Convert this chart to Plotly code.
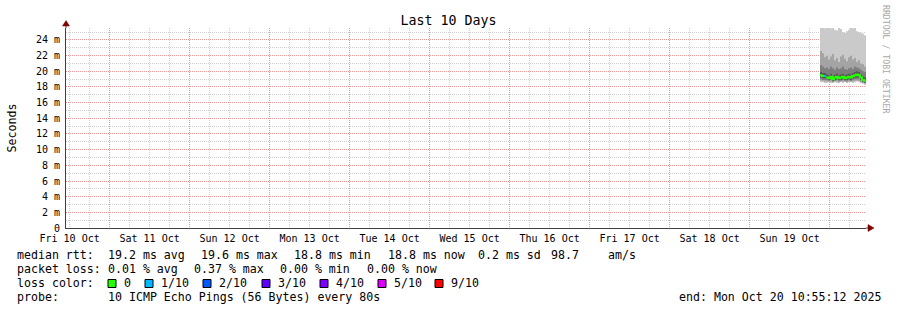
import plotly.graph_objects as go

# ---------------- data ----------------
START = "2025-10-10 10:55:12"
END = "2025-10-20 10:55:12"

times = [
    "2025-10-19 21:07:12", "2025-10-19 21:43:12", "2025-10-19 22:19:12", "2025-10-19 22:55:12",
    "2025-10-19 23:31:12", "2025-10-20 00:07:12", "2025-10-20 00:43:12", "2025-10-20 01:19:12",
    "2025-10-20 01:55:12", "2025-10-20 02:31:12", "2025-10-20 03:07:12", "2025-10-20 03:43:12",
    "2025-10-20 04:19:12", "2025-10-20 04:55:12", "2025-10-20 05:31:12", "2025-10-20 06:07:12",
    "2025-10-20 06:43:12", "2025-10-20 07:19:12", "2025-10-20 07:55:12", "2025-10-20 08:31:12",
    "2025-10-20 09:07:12", "2025-10-20 09:43:12", "2025-10-20 10:19:12",
]

# sorted ping times (ms), ping1 = fastest ... ping10 = slowest
ping1 = [18.6, 18.6, 18.5, 18.5, 18.6, 18.5, 18.5, 18.6, 18.5, 18.5, 18.6, 18.5, 18.6, 18.5, 18.6, 18.6, 18.5, 18.6, 18.7, 18.6, 18.5, 18.4, 18.3]
ping2 = [18.8, 18.8, 18.7, 18.7, 18.7, 18.7, 18.6, 18.7, 18.7, 18.6, 18.7, 18.7, 18.7, 18.6, 18.7, 18.7, 18.7, 18.8, 18.8, 18.8, 18.6, 18.5, 18.4]
ping3 = [19.0, 18.9, 18.9, 18.9, 18.8, 18.9, 18.7, 18.8, 18.9, 18.8, 18.8, 18.9, 18.8, 18.8, 18.9, 18.8, 18.9, 19.0, 19.0, 19.0, 18.8, 18.6, 18.5]
ping4 = [19.2, 19.1, 19.1, 19.0, 18.9, 19.0, 18.8, 18.9, 19.0, 18.9, 18.9, 19.0, 18.9, 18.9, 19.0, 18.9, 19.1, 19.2, 19.2, 19.2, 18.9, 18.7, 18.6]
ping5 = [19.4, 19.3, 19.3, 19.1, 19.0, 19.2, 18.9, 19.1, 19.2, 19.0, 19.1, 19.2, 19.0, 19.1, 19.2, 19.1, 19.3, 19.4, 19.5, 19.4, 19.1, 18.8, 18.7]
ping6 = [19.6, 19.5, 19.5, 19.3, 19.2, 19.4, 19.1, 19.3, 19.4, 19.2, 19.3, 19.4, 19.2, 19.3, 19.4, 19.3, 19.5, 19.6, 19.7, 19.6, 19.3, 19.0, 18.9]
ping7 = [19.9, 19.8, 19.8, 19.6, 19.5, 19.7, 19.4, 19.6, 19.7, 19.5, 19.6, 19.7, 19.5, 19.6, 19.7, 19.6, 19.8, 19.9, 20.0, 19.9, 19.6, 19.3, 19.2]
ping8 = [20.8, 20.6, 20.4, 20.5, 20.3, 20.6, 20.4, 20.2, 20.5, 20.3, 20.4, 20.6, 20.3, 20.2, 20.4, 20.5, 20.3, 20.6, 20.5, 20.4, 20.2, 20.0, 19.9]
ping9 = [22.6, 22.3, 21.8, 22.0, 21.5, 21.9, 22.2, 21.4, 21.7, 21.2, 21.9, 22.1, 21.6, 21.3, 21.8, 22.0, 21.5, 21.7, 21.2, 21.4, 21.0, 20.9, 20.6]
ping10 = [25.6, 25.6, 25.5, 25.6, 25.6, 25.5, 25.6, 25.3, 25.2, 25.6, 25.4, 25.0, 24.9, 25.1, 25.3, 25.6, 25.5, 25.6, 25.1, 25.0, 24.9, 24.8, 24.6]

median = [19.5, 19.4, 19.4, 19.2, 19.1, 19.3, 19.0, 19.2, 19.3, 19.1, 19.2, 19.3, 19.1, 19.2, 19.3, 19.2, 19.4, 19.5, 19.6, 19.5, 19.2, 18.9, 18.8]
loss_pct = [0, 0, 0.37, 0, 0, 0, 0, 0, 0, 0, 0, 0, 0, 0, 0, 0, 0, 0, 0, 0, 0, 0, 0]
PINGS = 10

loss_keys = [0, 1, 2, 3, 4, 5, 9]
loss_labels = ["0", "1/10", "2/10", "3/10", "4/10", "5/10", "9/10"]
loss_colors = ["#26ff00", "#00b8ff", "#0059ff", "#5e00ff", "#7e00ff", "#dd00ff", "#ff0000"]

day_labels = ["Fri 10 Oct", "Sat 11 Oct", "Sun 12 Oct", "Mon 13 Oct", "Tue 14 Oct",
              "Wed 15 Oct", "Thu 16 Oct", "Fri 17 Oct", "Sat 18 Oct", "Sun 19 Oct"]
day_label_pos = ["2025-10-10 12:00", "2025-10-11 12:00", "2025-10-12 12:00", "2025-10-13 12:00",
                 "2025-10-14 12:00", "2025-10-15 12:00", "2025-10-16 12:00", "2025-10-17 12:00",
                 "2025-10-18 12:00", "2025-10-19 12:00"]
midnights = ["2025-10-11", "2025-10-12", "2025-10-13", "2025-10-14", "2025-10-15",
             "2025-10-16", "2025-10-17", "2025-10-18", "2025-10-19", "2025-10-20"]
y_ticks = [0, 2, 4, 6, 8, 10, 12, 14, 16, 18, 20, 22, 24]
y_ticktext = ["0"] + [f"{v} m" for v in y_ticks[1:]]
Y_MAX = 25.53

legend_line1 = [(16, "median rtt:"), (107, "19.2 ms avg"), (200, "19.6 ms max"), (293, "18.8 ms min"),
                (387, "18.8 ms now"), (477, "0.2 ms sd"), (550, "98.7"), (607, "am/s")]
legend_line2 = [(16, "packet loss:"), (107, "0.01 % avg"), (193, "0.37 % max"), (279, "0.00 % min"),
                (366, "0.00 % now")]
legend_line3 = [(16, "loss color:")]
legend_line4 = [(16, "probe:"), (107, "10 ICMP Echo Pings (56 Bytes) every 80s"),
                (678, "end: Mon Oct 20 10:55:12 2025")]
box_x = [108, 145, 203, 262, 320, 378, 435]

# ---------------- layout constants ----------------
W, H = 897, 310
L, R, T, B = 66, 31, 28, 82
PW, PH = W - L - R, H - T - B
MONO = "DejaVu Sans Mono"
MGRID = "rgba(245,128,128,0.75)"
GRID = "rgba(191,191,191,0.75)"
AXIS = "#404040"
ARROW = "#800000"


def px(x):
    return (x - L) / PW


def py(y):
    return (H - B - y) / PH


def nb(s):
    return s.replace(" ", "\u00a0")


fig = go.Figure()

# smoke bands (outer = lightest)
pings = [ping1, ping2, ping3, ping4, ping5, ping6, ping7, ping8, ping9, ping10]
xs = times + [END]
half = PINGS // 2
for i in range(1, half + 1):
    c = int(190 / half * (half - i)) + 50
    col = "#" + ("%02x" % c) * 3
    lo = pings[i - 1]
    hi = pings[PINGS - i]
    fig.add_trace(go.Scatter(x=xs, y=lo + [lo[-1]], mode="lines", line=dict(width=0, shape="hv"),
                             hoverinfo="skip", showlegend=False))
    fig.add_trace(go.Scatter(x=xs, y=hi + [hi[-1]], mode="lines", line=dict(width=0, shape="hv"),
                             fill="tonexty", fillcolor=col, hoverinfo="skip", showlegend=False))

# median coloured by loss
loss_p = [v / 100 * PINGS for v in loss_pct]
bins = []
for lv in loss_p:
    last = -1
    for k, key in enumerate(loss_keys):
        if last < lv <= key:
            bins.append(k)
            break
        last = key
for k, colr in enumerate(loss_colors):
    sx, sy = [], []
    for i, b in enumerate(bins):
        if b == k:
            sx += [xs[i], xs[i + 1]]
            sy += [median[i], median[i]]
        else:
            sx.append(None)
            sy.append(None)
    if any(v is not None for v in sy):
        fig.add_trace(go.Scatter(x=sx, y=sy, mode="lines", line=dict(width=2, color=colr),
                                 connectgaps=False, hoverinfo="skip", showlegend=False))

# invisible trace for label axis
fig.add_trace(go.Scatter(x=day_label_pos, y=[0] * len(day_label_pos), xaxis="x2", mode="markers",
                         marker=dict(opacity=0), hoverinfo="skip", showlegend=False))

fig.update_layout(
    width=W, height=H, margin=dict(l=L, r=R, t=T, b=B, pad=0),
    paper_bgcolor="white", plot_bgcolor="white", showlegend=False,
    font=dict(family=MONO, size=10, color="black"),
    xaxis=dict(type="date", range=[START, END], tickmode="array", tickvals=midnights,
               showticklabels=False, ticks="", showgrid=True, gridcolor=MGRID, griddash="1px,1px",
               gridwidth=1, zeroline=False, showline=True, linecolor=AXIS, linewidth=1,
               minor=dict(tick0="2025-10-10", dtick=6 * 3600 * 1000, showgrid=True, gridcolor=GRID,
                          griddash="1px,1px", gridwidth=1, ticks="")),
    xaxis2=dict(type="date", range=[START, END], overlaying="x", anchor="y", side="bottom",
                tickmode="array", tickvals=day_label_pos, ticktext=day_labels, showgrid=False,
                zeroline=False, showline=False, ticks="outside", ticklen=1,
                tickcolor="rgba(0,0,0,0)", tickfont=dict(family=MONO, size=10, color="black")),
    yaxis=dict(range=[0, Y_MAX], tickmode="array", tickvals=y_ticks, ticktext=y_ticktext,
               showgrid=True, gridcolor=MGRID, griddash="1px,1px", gridwidth=1, zeroline=False,
               showline=True, linecolor=AXIS, linewidth=1, ticks="outside", ticklen=3,
               tickcolor="rgba(0,0,0,0)", tickfont=dict(family=MONO, size=10, color="black"),
               minor=dict(dtick=1, tick0=0, showgrid=True, gridcolor=GRID, griddash="1px,1px",
                          gridwidth=1, ticks="")),
    title=dict(text="Last 10 Days", x=0.5, xref="container", xanchor="center",
               y=(H - 20) / H, yref="container", yanchor="middle",
               font=dict(family=MONO, size=13.3, color="black")),
)

ann = []
for yline, items in [(255, legend_line1), (268.5, legend_line2), (283, legend_line3), (297, legend_line4)]:
    for xpos, txt in items:
        ann.append(dict(x=px(xpos), y=py(yline), xref="paper", yref="paper", text=nb(txt),
                        showarrow=False, xanchor="left", yanchor="middle", borderpad=0,
                        font=dict(family=MONO, size=11.6, color="black")))
shapes = []
for bx, lab, colr in zip(box_x, loss_labels, loss_colors):
    shapes.append(dict(type="rect", xref="paper", yref="paper", x0=px(bx), x1=px(bx + 8),
                       y0=py(279.5), y1=py(287.5), line=dict(color="black", width=1), fillcolor=colr))
    ann.append(dict(x=px(bx + 15), y=py(283), xref="paper", yref="paper", text=nb(lab),
                    showarrow=False, xanchor="left", yanchor="middle", borderpad=0,
                    font=dict(family=MONO, size=11.6, color="black")))

# y axis title
ann.append(dict(x=px(11), y=py(127.5), xref="paper", yref="paper", text="Seconds", textangle=-90,
                showarrow=False, xanchor="center", yanchor="middle",
                font=dict(family=MONO, size=11.6, color="black")))
# watermark
ann.append(dict(x=px(886), y=py(60), xref="paper", yref="paper", text=nb("RRDTOOL / TOBI OETIKER"),
                textangle=90, showarrow=False, xanchor="center", yanchor="middle",
                font=dict(family=MONO, size=8.2, color="#a8a8a8")))

# axis arrows
shapes.append(dict(type="line", xref="paper", yref="paper", x0=1, x1=px(869), y0=0, y1=0,
                   line=dict(color=AXIS, width=1)))
shapes.append(dict(type="path", xref="paper", yref="paper",
                   path=f"M {px(868)} {py(224.5)} L {px(874)} {py(228)} L {px(868)} {py(231.5)} Z",
                   fillcolor=ARROW, line=dict(color=ARROW, width=0.5)))
shapes.append(dict(type="line", xref="paper", yref="paper", x0=0, x1=0, y0=1, y1=py(25),
                   line=dict(color=AXIS, width=1)))
shapes.append(dict(type="path", xref="paper", yref="paper",
                   path=f"M {px(62.5)} {py(26)} L {px(66)} {py(20.5)} L {px(69.5)} {py(26)} Z",
                   fillcolor=ARROW, line=dict(color=ARROW, width=0.5)))

fig.update_layout(annotations=ann, shapes=shapes)
fig.write_html("out.html")
